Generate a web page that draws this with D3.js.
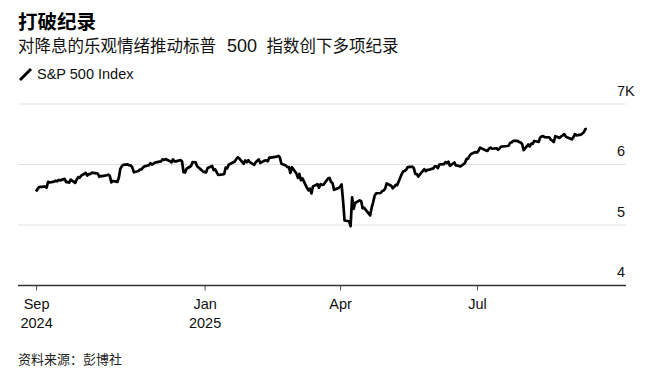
<!DOCTYPE html>
<html>
<head>
<meta charset="utf-8">
<script src="https://cdn.jsdelivr.net/npm/d3@7"></script>
<style>
  body { margin: 0; background: #fff; }
  svg { display: block; font-family: "Liberation Sans", "Noto Sans CJK SC", sans-serif; }
</style>
</head>
<body>
<div id="chart"></div>
<script>
// Chart area
var svgWidth = 659;
var svgHeight = 378;

// Daily closes, S&P 500
const dates2024 = ["09-11","09-12","09-13","09-16","09-17","09-18","09-19","09-20","09-23","09-24","09-25","09-26","09-27","09-30",
  "10-01","10-02","10-03","10-04","10-07","10-08","10-09","10-10","10-11","10-14","10-15","10-16","10-17","10-18","10-21","10-22","10-23","10-24","10-25","10-28","10-29","10-30","10-31",
  "11-01","11-04","11-05","11-06","11-07","11-08","11-11","11-12","11-13","11-14","11-15","11-18","11-19","11-20","11-21","11-22","11-25","11-26","11-27","11-29",
  "12-02","12-03","12-04","12-05","12-06","12-09","12-10","12-11","12-12","12-13","12-16","12-17","12-18","12-19","12-20","12-23","12-24","12-26","12-27","12-30","12-31"];
const closes2024 = [5554,5596,5626,5633,5634,5618,5713,5703,5718,5732,5722,5745,5738,5762,
  5709,5709,5699,5751,5696,5751,5792,5780,5815,5859,5815,5843,5841,5865,5853,5851,5797,5809,5808,5823,5832,5813,5705,
  5728,5712,5782,5929,5973,5996,6001,5984,5985,5949,5871,5893,5917,5917,5949,5969,5987,6021,5998,6032,
  6047,6050,6086,6075,6090,6053,6034,6085,6051,6051,6074,6050,5872,5867,5930,5975,6040,6037,5971,5907,5882];

const dates2025 = ["01-02","01-03","01-06","01-07","01-08","01-10","01-13","01-14","01-15","01-16","01-17","01-21","01-22","01-23","01-24","01-27","01-28","01-29","01-30","01-31",
  "02-03","02-04","02-05","02-06","02-07","02-10","02-11","02-12","02-13","02-14","02-18","02-19","02-20","02-21","02-24","02-25","02-26","02-27","02-28",
  "03-03","03-04","03-05","03-06","03-07","03-10","03-11","03-12","03-13","03-14","03-17","03-18","03-19","03-20","03-21","03-24","03-25","03-26","03-27","03-28","03-31",
  "04-01","04-02","04-03","04-04","04-07","04-08","04-09","04-10","04-11","04-14","04-15","04-16","04-17","04-21","04-22","04-23","04-24","04-25","04-28","04-29","04-30",
  "05-01","05-02","05-05","05-06","05-07","05-08","05-09","05-12","05-13","05-14","05-15","05-16","05-19","05-20","05-21","05-22","05-23","05-27","05-28","05-29","05-30",
  "06-02","06-03","06-04","06-05","06-06","06-09","06-10","06-11","06-12","06-13","06-16","06-17","06-18","06-20","06-23","06-24","06-25","06-26","06-27","06-30",
  "07-01","07-02","07-03","07-07","07-08","07-09","07-10","07-11","07-14","07-15","07-16","07-17","07-18","07-21","07-22","07-23","07-24","07-25","07-28","07-29","07-30","07-31",
  "08-01","08-04","08-05","08-06","08-07","08-08","08-11","08-12","08-13","08-14","08-15","08-18","08-19","08-20","08-21","08-22","08-25","08-26","08-27","08-28","08-29",
  "09-02","09-03","09-04","09-05","09-08","09-09","09-10","09-11","09-12"];
const closes2025 = [5869,5942,5975,5909,5918,5827,5836,5843,5950,5937,5997,6049,6086,6119,6101,6012,6068,6039,6071,6041,
  5994,6038,6061,6084,6026,6066,6069,6052,6115,6115,6129,6144,6118,6013,5983,5955,5956,5861,5955,
  5850,5779,5843,5739,5770,5615,5573,5599,5522,5639,5675,5615,5675,5663,5668,5768,5777,5712,5693,5581,5612,
  5633,5671,5397,5074,5062,4982,5457,5268,5363,5406,5397,5276,5283,5158,5288,5376,5485,5525,5529,5561,5569,
  5604,5687,5650,5607,5631,5664,5660,5844,5886,5892,5917,5958,5964,5941,5845,5842,5802,5922,5889,5912,5912,
  5936,5970,5971,5939,6000,6006,6039,6022,6045,5977,6033,5983,5981,5967,6025,6092,6092,6141,6173,6205,
  6198,6227,6279,6230,6226,6263,6280,6260,6269,6244,6264,6297,6297,6306,6310,6359,6363,6389,6390,6371,6362,6339,
  6238,6330,6299,6345,6340,6389,6374,6446,6466,6469,6450,6449,6411,6396,6370,6467,6440,6466,6481,6502,6460,
  6416,6448,6502,6482,6495,6512,6532,6587,6584];

// Axis ticks and labels
const yTicks = [4000, 5000, 6000, 7000];
const yTickLabels = ["4", "5", "6", "7K"];
const xTicks = ["2024-09-11", "2025-01-01", "2025-04-01", "2025-07-01"];
const xTickMonths = ["Sep", "Jan", "Apr", "Jul"];
const xTickYears = ["2024", "2025", "", ""];

var parseDate = d3.utcParse("%Y-%m-%d");

// build series
var series = [];
dates2024.forEach((d, i) => series.push({ date: parseDate("2024-" + d), value: closes2024[i] }));
dates2025.forEach((d, i) => series.push({ date: parseDate("2025-" + d), value: closes2025[i] }));

var svg = d3.select("#chart")
  .append("svg")
  .attr("width", svgWidth)
  .attr("height", svgHeight);

// Scales
var xScale = d3.scaleUtc()
  .domain([parseDate("2024-08-30"), parseDate("2025-10-08")])
  .range([18, 626]);

var yScale = d3.scaleLinear()
  .domain([4000, 7000])
  .range([285.5, 104]);

// Title, subtitle, legend
svg.append("text")
  .attr("x", 18)
  .attr("y", 29)
  .attr("font-size", "19.5px")
  .attr("font-weight", "bold")
  .attr("fill", "#000")
  .text("打破纪录");

var subtitle = svg.append("text")
  .attr("x", 18)
  .attr("y", 52)
  .attr("font-size", "16.5px")
  .attr("fill", "#111");

subtitle.append("tspan").text("对降息的乐观情绪推动标普");
subtitle.append("tspan")
  .attr("dx", 11)
  .attr("font-size", "18px")
  .text("500");
subtitle.append("tspan")
  .attr("dx", 9.5)
  .text("指数创下多项纪录");

svg.append("line")
  .attr("x1", 20).attr("y1", 80)
  .attr("x2", 31).attr("y2", 69)
  .attr("stroke", "#000")
  .attr("stroke-width", 3);

svg.append("text")
  .attr("x", 37)
  .attr("y", 79)
  .attr("font-size", "14.5px")
  .attr("fill", "#111")
  .text("S&P 500 Index");

// Gridlines
svg.append("g")
  .selectAll("line")
  .data(yTicks.slice(1))
  .enter()
  .append("line")
  .attr("x1", 18)
  .attr("x2", 626)
  .attr("y1", d => yScale(d))
  .attr("y2", d => yScale(d))
  .attr("stroke", "#e2e2e2")
  .attr("stroke-width", 1);

// y labels, sit above their gridline
svg.append("g")
  .selectAll("text")
  .data(yTicks)
  .enter()
  .append("text")
  .attr("x", 617)
  .attr("y", d => yScale(d) - 8.5)
  .attr("font-size", "14.5px")
  .attr("fill", "#111")
  .text((d, i) => yTickLabels[i]);

// x axis
var bottomAxis = d3.axisBottom(xScale)
  .tickValues(xTicks.map(parseDate))
  .tickSize(5)
  .tickFormat("");

var xAxis = svg.append("g")
  .attr("transform", `translate(0, ${yScale(4000)})`)
  .call(bottomAxis);

xAxis.select(".domain").remove();
xAxis.selectAll(".tick line").attr("stroke", "#555");

var tickText = xAxis.selectAll(".tick")
  .append("text")
  .attr("fill", "#111")
  .attr("font-size", "14.5px")
  .attr("text-anchor", "middle");

tickText.append("tspan")
  .attr("x", 0)
  .attr("y", 23)
  .text((d, i) => xTickMonths[i]);

tickText.append("tspan")
  .attr("x", 0)
  .attr("y", 42.5)
  .text((d, i) => xTickYears[i]);

// baseline
svg.append("line")
  .attr("x1", 18)
  .attr("x2", 626)
  .attr("y1", yScale(4000))
  .attr("y2", yScale(4000))
  .attr("stroke", "#333")
  .attr("stroke-width", 1.5);

// the index line
var lineFunction = d3.line()
  .x(d => xScale(d.date))
  .y(d => yScale(d.value));

svg.append("path")
  .datum(series)
  .attr("d", lineFunction)
  .attr("fill", "none")
  .attr("stroke", "#000")
  .attr("stroke-width", 2.7)
  .attr("stroke-linejoin", "round");

// source
svg.append("text")
  .attr("x", 18)
  .attr("y", 364)
  .attr("font-size", "13px")
  .attr("fill", "#222")
  .text("资料来源：彭博社");
</script>
</body>
</html>
